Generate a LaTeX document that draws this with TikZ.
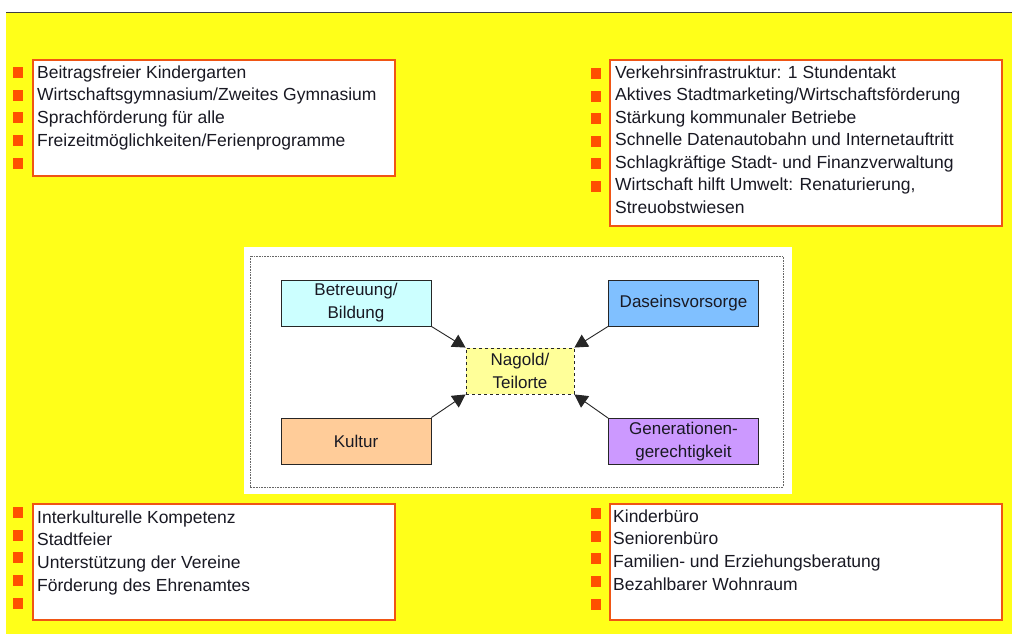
\documentclass[tikz,border=0pt]{standalone}
\usepackage{fontspec}
\setmainfont{Liberation Sans}
\usetikzlibrary{arrows.meta}
\definecolor{bgyellow}{RGB}{255,255,25}
\definecolor{bulorange}{RGB}{255,80,0}
\definecolor{boxorange}{RGB}{240,85,20}
\definecolor{cbetr}{RGB}{204,255,255}
\definecolor{cdasein}{RGB}{128,192,255}
\definecolor{ckultur}{RGB}{255,204,153}
\definecolor{cgen}{RGB}{204,153,255}
\definecolor{cnag}{RGB}{255,255,153}
\definecolor{txt}{RGB}{25,25,35}
\tikzset{
  listbox/.style={draw=boxorange, line width=2.2pt, fill=white, anchor=north west, inner sep=0pt},
  bullet/.style={fill=bulorange, draw=none},
  item/.style={anchor=base west, inner sep=0pt, text=txt, font=\fontsize{17.5}{20}\selectfont},
  cbox/.style={draw=black!85, line width=0.9pt, minimum width=150pt, minimum height=46pt, align=center, inner sep=0pt, text=txt, font=\fontsize{17}{23}\selectfont},
  arr/.style={draw=black!85, line width=0.9pt, -{Triangle[length=13pt,width=14pt]}}
}
\begin{document}
\begin{tikzpicture}[x=1pt,y=-1pt]
\useasboundingbox (0,0) rectangle (1012,634);
\fill[white] (0,0) rectangle (1012,634);
\fill[bgyellow] (6,13) rectangle (1012,634);
\draw[line width=1.4pt, black!75] (6,12.5) -- (1012,12.5);

% list boxes
\node[listbox, minimum width=362pt, minimum height=116pt] (tl) at (32,59) {};
\node[listbox, minimum width=392pt, minimum height=166pt] (tr) at (609,59) {};
\node[listbox, minimum width=362pt, minimum height=116pt] (bl) at (32,503) {};
\node[listbox, minimum width=392pt, minimum height=116pt] (br) at (609,503) {};

% bullets
\foreach \i in {0,...,4} {
  \fill[bullet] (12.5,67+\i*22.7) rectangle (23,78+\i*22.7);
  \fill[bullet] (12.5,507+\i*22.7) rectangle (23,518+\i*22.7);
  \fill[bullet] (590.5,508+\i*22.7) rectangle (601,519+\i*22.7);
}
\foreach \i in {0,...,5} {
  \fill[bullet] (590.5,68+\i*22.5) rectangle (601,79+\i*22.5);
}

% top-left texts
\node[item] (tl1) at (37,78) {Beitragsfreier Kindergarten};
\node[item] (tl2) at (37,100.7) {Wirtschaftsgymnasium/Zweites Gymnasium};
\node[item] (tl3) at (37,123.4) {Sprachförderung für alle};
\node[item] (tl4) at (37,146.1) {Freizeitmöglichkeiten/Ferienprogramme};

% top-right texts
\node[item] (tr1) at (615,78) {Verkehrsinfrastruktur: 1 Stundentakt};
\node[item] (tr2) at (615,100.5) {Aktives Stadtmarketing/Wirtschaftsförderung};
\node[item] (tr3) at (615,123) {Stärkung kommunaler Betriebe};
\node[item] (tr4) at (615,145.5) {Schnelle Datenautobahn und Internetauftritt};
\node[item] (tr5) at (615,168) {Schlagkräftige Stadt- und Finanzverwaltung};
\node[item] (tr6) at (615,190.5) {Wirtschaft hilft Umwelt: Renaturierung,};
\node[item] (tr7) at (615,213) {Streuobstwiesen};

% bottom-left texts
\node[item] (bl1) at (37,523) {Interkulturelle Kompetenz};
\node[item] (bl2) at (37,545.7) {Stadtfeier};
\node[item] (bl3) at (37,568.4) {Unterstützung der Vereine};
\node[item] (bl4) at (37,591.1) {Förderung des Ehrenamtes};

% bottom-right texts
\node[item] (br1) at (613,522) {Kinderbüro};
\node[item] (br2) at (613,544.7) {Seniorenbüro};
\node[item] (br3) at (613,567.4) {Familien- und Erziehungsberatung};
\node[item] (br4) at (613,590.1) {Bezahlbarer Wohnraum};

% central panel
\fill[white] (244,247) rectangle (792,494);
\draw[black!60, line width=0.7pt, dash pattern=on 0.8pt off 0.8pt] (250,256) rectangle (783,487);

\node[cbox, fill=cbetr] (betr) at (356,303) {Betreuung/\\Bildung};
\node[cbox, fill=cdasein] (dasein) at (683.5,303) {Daseinsvorsorge};
\node[cbox, fill=ckultur] (kultur) at (356,441) {Kultur};
\node[cbox, fill=cgen] (gen) at (683.5,441.5) {Generationen-\\gerechtigkeit};
\node[cbox, fill=cnag, dashed, minimum width=108pt, minimum height=46pt] (nag) at (520,371) {Nagold/\\Teilorte};

\draw[arr] (betr.south east) -- (nag.north west);
\draw[arr] (dasein.south west) -- (nag.north east);
\draw[arr] (kultur.north east) -- (nag.south west);
\draw[arr] (gen.north west) -- (nag.south east);
\end{tikzpicture}
\end{document}
